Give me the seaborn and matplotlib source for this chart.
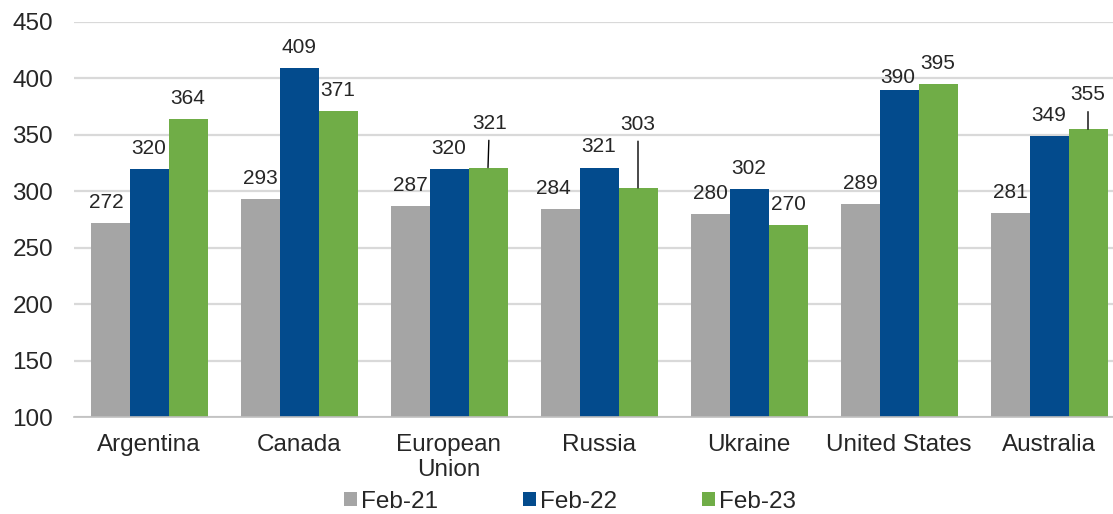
import pandas as pd
import matplotlib.pyplot as plt
import seaborn as sns
from matplotlib.ticker import MultipleLocator, FixedLocator

# Chart data
countries = ['Argentina', 'Canada', 'European\nUnion', 'Russia', 'Ukraine', 'United States', 'Australia']
periods = ['Feb-21', 'Feb-22', 'Feb-23']
feb21 = [272, 293, 287, 284, 280, 289, 281]
feb22 = [320, 409, 320, 321, 302, 390, 349]
feb23 = [364, 371, 321, 303, 270, 395, 355]
colors = ['#A5A5A5', '#034B8D', '#70AD47']

df = pd.DataFrame({
    'Country': countries * 3,
    'Period': [p for p in periods for _ in countries],
    'Value': feb21 + feb22 + feb23,
})

sns.set_style('white')
plt.rcParams['font.family'] = ['Liberation Sans', 'DejaVu Sans']
FS = 17.5
LFS = 15

fig = plt.figure(figsize=(11.13, 5.14), dpi=100)
ax = fig.add_axes([74 / 1113, 97 / 514, 1050 / 1113, 395 / 514])

sns.barplot(data=df, x='Country', y='Value', hue='Period', palette=colors,
            width=0.78, gap=0, saturation=1, linewidth=0, ax=ax, legend=True)

ax.set_ylim(100, 450)
ax.set_xlim(-0.5, len(countries) - 0.5)
ax.yaxis.set_major_locator(MultipleLocator(50))
ax.grid(axis='y', color='#D9D9D9', linewidth=1.6, zorder=0)
ax.set_axisbelow(True)
for s in ['left', 'right', 'top']:
    ax.spines[s].set_visible(False)
ax.spines['bottom'].set_color('#BFBFBF')
ax.spines['bottom'].set_linewidth(1.2)

ax.tick_params(axis='y', length=0, labelsize=FS, pad=15)
ax.tick_params(axis='x', which='major', length=0, labelsize=FS, pad=12)
ax.xaxis.set_minor_locator(FixedLocator([i - 0.5 for i in range(len(countries) + 1)]))
ax.tick_params(axis='x', which='minor', length=7, width=1.2, color='#BFBFBF', direction='out')
ax.set_xlabel('')
ax.set_ylabel('')

# value labels; some use a leader line, some are nudged
leaders = {(2, 2): (1, 25), (3, 2): (0, 39), (6, 2): (0, 18)}
nudged = {(5, 1): (-1, 2), (0, 0): (-3, 8), (3, 0): (-5, 8)}
for j, cont in enumerate(ax.containers):
    for i, bar in enumerate(cont):
        x = bar.get_x() + bar.get_width() / 2
        y = bar.get_height()
        val = int(round(y))
        if (i, j) in leaders:
            dx, dy = leaders[(i, j)]
            ax.annotate(f'{val}', xy=(x, y), xytext=(dx, dy), textcoords='offset points',
                        ha='center', va='bottom', fontsize=LFS,
                        arrowprops=dict(arrowstyle='-', color='black', lw=1,
                                        shrinkA=3, shrinkB=0))
        else:
            dx, dy = nudged.get((i, j), (0, 8))
            ax.annotate(f'{val}', xy=(x, y), xytext=(dx, dy), textcoords='offset points',
                        ha='center', va='bottom', fontsize=LFS)

handles, labels = ax.get_legend_handles_labels()
ax.get_legend().remove()
fig.legend(handles, labels, loc='center', bbox_to_anchor=(0.512, 0.024),
           ncol=3, frameon=False, fontsize=FS, handlelength=0.55, handleheight=0.55,
           handletextpad=0.15, columnspacing=3.5, borderpad=0)

plt.savefig('out.png', dpi=100)
plt.close()
